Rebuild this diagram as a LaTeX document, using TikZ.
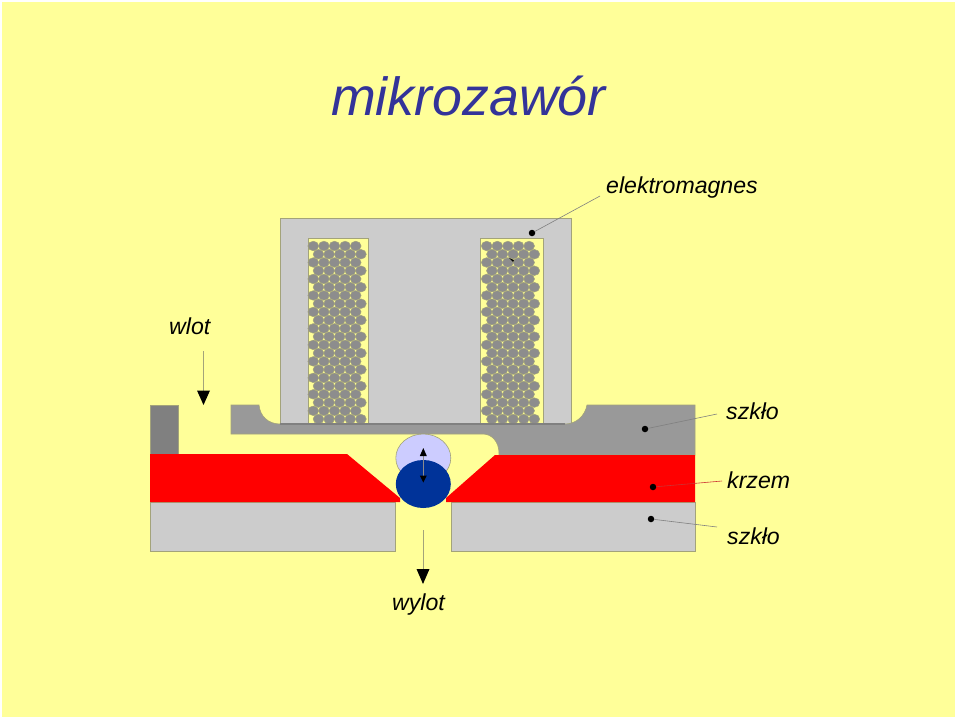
\documentclass[tikz,border=0pt]{standalone}
\usepackage{fontspec}
\setmainfont{Liberation Sans}
\definecolor{bgy}{HTML}{FFFF99}
\definecolor{core}{HTML}{CCCCCC}
\definecolor{midg}{HTML}{999999}
\definecolor{dkg}{HTML}{808080}
\definecolor{edge}{HTML}{A3A37A}
\definecolor{titleblue}{HTML}{333399}
\definecolor{ballL}{HTML}{CCCCFF}
\definecolor{ballD}{HTML}{003399}
\tikzset{
  wire/.style={draw=edge,fill=dkg!90!white,line width=0.5pt},
  lbl/.style={inner sep=0pt,anchor=base west,font=\fontsize{23.1}{26}\selectfont\itshape,text=black},
  leader/.style={draw=gray,line width=0.6pt},
  flowline/.style={draw=edge,line width=0.7pt},
  dotn/.style={circle,fill=black,inner sep=0pt,minimum size=6.5pt},
  tip/.style={fill=black,draw=none}
}
\begin{document}
\begin{tikzpicture}[x=1pt,y=-1pt]
\useasboundingbox (0,0) rectangle (960,720);
\fill[white] (0,0) rectangle (960,720);
\fill[bgy] (2,2) rectangle (955,717);
% core
\fill[core,draw=edge,line width=0.8pt] (280,218) rectangle (571,424);
\fill[bgy,draw=edge,line width=0.6pt] (308,238) rectangle (368,424);
\fill[bgy,draw=edge,line width=0.6pt] (480,238) rectangle (543,424);
% windings
\foreach \xo in {313.3,486.7}{
  \foreach \r in {0,...,21}{
    \pgfmathsetmacro{\yy}{246+\r*8.24}
    \pgfmathsetmacro{\dx}{mod(\r,2)==1 ? 5.2 : 0}
    \foreach \c in {0,...,4}{
      \pgfmathsetmacro{\xx}{\xo+\dx+\c*10.6}
      \draw[wire] (\xx,\yy) ellipse (5.4 and 4.8);
    }
  }
}
% top glass
\fill[midg,draw=edge,line width=0.6pt] (231,405) -- (259,405)
  .. controls (260,416) and (268,424) .. (280,424) -- (565,424)
  .. controls (576,424) and (585,416) .. (587,405) -- (695,405) -- (695,455) -- (499,455)
  -- (499,453) .. controls (499,442) and (492,434) .. (483,434) -- (231,434) -- cycle;
\fill[dkg] (280,423) rectangle (565,425);
\fill[dkg,draw=edge,line width=0.6pt] (150,405) rectangle (178,454);
% bottom glass
\fill[core,draw=edge,line width=0.6pt] (150,502) rectangle (395,551);
\fill[core,draw=edge,line width=0.6pt] (451,502) rectangle (695,551);
% silicon
\fill[red] (150,454) -- (347,454) -- (400,498) -- (400,502) -- (150,502) -- cycle;
\fill[red] (695,455) -- (495,455) -- (446,498) -- (446,502) -- (695,502) -- cycle;
% ball
\fill[ballL,draw=edge,line width=0.6pt] (423.3,458) ellipse (27.5 and 24);
\fill[ballD] (423.3,484) ellipse (27.5 and 24);
% labels
\node[font=\fontsize{53.7}{60}\selectfont\itshape,text=titleblue,inner sep=0pt,anchor=base west] (title) at (331,115) {mikrozawór};
\node[lbl] (em) at (606,193) {elektromagnes};
\node[lbl] (wl) at (169,334) {wlot};
\node[lbl] (s1) at (726,419) {szkło};
\node[lbl] (kr) at (727,488) {krzem};
\node[lbl] (s2) at (727,544) {szkło};
\node[lbl] (wy) at (392,610) {wylot};
% dots
\node[dotn] (d1) at (532,233) {};
\node[dotn] (d2) at (645,429) {};
\node[dotn] (d3) at (653,487) {};
\node[dotn] (d4) at (651,519) {};
\coordinate (e1) at (600,196);
\coordinate (e2) at (717,414);
\coordinate (e3) at (722,481);
\coordinate (e4) at (717,527);
\draw[leader] (d1) -- (e1);
\draw[leader] (d2) -- (e2);
\draw[leader,draw=red!60!gray] (d3) -- (e3);
\draw[leader] (d4) -- (e4);
% small mark in coil
\fill (509,258) -- (514,260) -- (513,262) -- cycle;
% arrows
\coordinate (wa) at (203.5,351);
\coordinate (wb) at (203.5,391);
\draw[flowline] (wa) -- (wb);
\fill[tip] (197,390.5) -- (210,390.5) -- (203.5,405) -- cycle;
\coordinate (oa) at (423,530);
\coordinate (ob) at (423,570);
\draw[flowline] (oa) -- (ob);
\fill[tip] (416.5,569) -- (429.5,569) -- (423,584) -- cycle;
\coordinate (ma) at (423,456);
\coordinate (mb) at (423,476);
\draw[draw=black!45,line width=0.5pt] (ma) -- (mb);
\fill[tip] (423.3,448) -- (419.8,456) -- (426.8,456) -- cycle;
\fill[tip] (423.3,482.5) -- (419.8,475.5) -- (426.8,475.5) -- cycle;
\end{tikzpicture}
\end{document}
